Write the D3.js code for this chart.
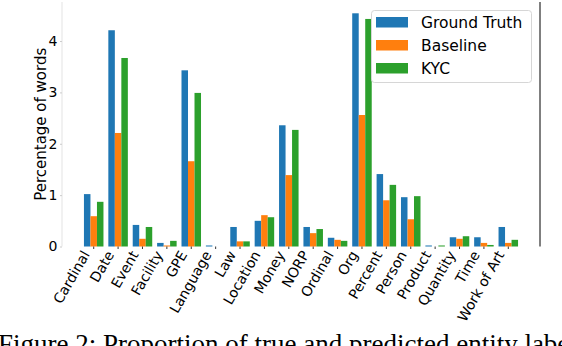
<!DOCTYPE html>
<html>
<head>
<meta charset="utf-8">
<script src="https://cdn.jsdelivr.net/npm/d3@7"></script>
<style>
  body { margin: 0; background: #fff; }
  svg { display: block; }
</style>
</head>
<body>
<div id="chart"></div>
<script>
var categories = ['Cardinal', 'Date', 'Event', 'Facility', 'GPE', 'Language', 'Law',
  'Location', 'Money', 'NORP', 'Ordinal', 'Org', 'Percent', 'Person', 'Product',
  'Quantity', 'Time', 'Work of Art'];
var seriesNames = ['Ground Truth', 'Baseline', 'KYC'];
var groundTruth = [1.02, 4.21, 0.42, 0.07, 3.43, 0.02, 0.38, 0.50, 2.36, 0.38, 0.17, 4.54, 1.41, 0.96, 0.02, 0.18, 0.18, 0.38];
var baseline    = [0.59, 2.21, 0.15, 0.02, 1.66, 0.00, 0.10, 0.61, 1.39, 0.26, 0.13, 2.56, 0.90, 0.53, 0.00, 0.15, 0.07, 0.07];
var kyc         = [0.87, 3.67, 0.38, 0.11, 2.99, 0.00, 0.10, 0.57, 2.27, 0.34, 0.11, 4.43, 1.20, 0.98, 0.02, 0.20, 0.03, 0.13];
var yTicks = [0, 1, 2, 3, 4];
var colors = ['#1f77b4', '#ff7f0e', '#2ca02c'];
var caption = 'Figure 2: Proportion of true and predicted entity labels';

var W = 562, H = 346;
var plotLeft = 62, plotRight = 540, plotTop = 2, plotBottom = 246.5;
var font = 'DejaVu Sans, sans-serif';

var svg = d3.select('#chart').append('svg')
  .attr('width', W)
  .attr('height', H);

var x = d3.scaleBand().domain(categories).range([plotLeft, plotRight])
  .paddingInner(0.2).paddingOuter(0.9);
var xs = d3.scaleBand().domain(seriesNames).range([0, x.bandwidth()]);
var y = d3.scaleLinear().domain([0, 4.76]).range([plotBottom, plotTop]);

var values = [groundTruth, baseline, kyc];
var rows = [];
categories.forEach(function(c, i) {
  seriesNames.forEach(function(s, j) {
    rows.push({cat: c, series: s, value: values[j][i], color: colors[j]});
  });
});

svg.append('g').selectAll('rect').data(rows)
  .enter().append('rect')
    .attr('x', function(d) { return x(d.cat) + xs(d.series); })
    .attr('y', function(d) { return y(d.value); })
    .attr('width', xs.bandwidth())
    .attr('height', function(d) { return plotBottom - y(d.value); })
    .attr('fill', function(d) { return d.color; });

// spines: faint left, black right
svg.append('line')
  .attr('x1', plotLeft).attr('x2', plotLeft).attr('y1', plotTop).attr('y2', plotBottom)
  .attr('stroke', '#e3e3e3').attr('stroke-width', 1);
svg.append('line')
  .attr('x1', plotRight).attr('x2', plotRight).attr('y1', plotTop).attr('y2', plotBottom)
  .attr('stroke', '#000').attr('stroke-width', 1);

// y axis
var yAxis = svg.append('g')
  .attr('transform', 'translate(' + plotLeft + ',0)')
  .call(d3.axisLeft(y).tickValues(yTicks).tickSize(2).tickPadding(2.5).tickFormat(d3.format('d')));
yAxis.select('.domain').remove();
yAxis.selectAll('.tick line').attr('stroke', '#ccc');
yAxis.selectAll('.tick text')
  .attr('font-family', font)
  .attr('font-size', 14)
  .attr('fill', '#000');

svg.append('text')
  .attr('transform', 'translate(46,' + ((plotTop + plotBottom) / 2) + ') rotate(-90)')
  .attr('text-anchor', 'middle')
  .attr('font-family', font)
  .attr('font-size', 15)
  .text('Percentage of words');

// x axis
var xAxis = svg.append('g')
  .attr('transform', 'translate(0,' + plotBottom + ')')
  .call(d3.axisBottom(x).tickSize(2.5).tickPadding(0));
xAxis.select('.domain').remove();
xAxis.selectAll('.tick line').attr('stroke', '#000').attr('stroke-width', 0.8);
xAxis.selectAll('.tick text')
  .attr('font-family', font)
  .attr('font-size', 14)
  .attr('fill', '#000')
  .attr('text-anchor', 'end')
  .attr('dy', null)
  .attr('y', null)
  .attr('transform', 'translate(-3.5,8) rotate(-60)');

// legend
var legend = svg.append('g');
legend.append('rect')
  .attr('x', 371.5).attr('y', 10.5)
  .attr('width', 160).attr('height', 72)
  .attr('rx', 3)
  .attr('fill', '#fff').attr('fill-opacity', 0.8)
  .attr('stroke', '#d6d6d6').attr('stroke-width', 1);
var items = legend.selectAll('g.item').data(seriesNames)
  .enter().append('g')
    .attr('class', 'item')
    .attr('transform', function(d, i) { return 'translate(376,' + (17 + i * 23) + ')'; });
items.append('rect')
  .attr('width', 32).attr('height', 10.5)
  .attr('fill', function(d, i) { return colors[i]; });
items.append('text')
  .attr('x', 45).attr('y', 5.5)
  .attr('dy', '0.36em')
  .attr('font-family', font)
  .attr('font-size', 15.5)
  .text(function(d) { return d; });

svg.append('text')
  .attr('x', -2).attr('y', 353)
  .attr('font-family', 'Liberation Serif, Times New Roman, serif')
  .attr('font-size', 27)
  .text(caption);
</script>
</body>
</html>
